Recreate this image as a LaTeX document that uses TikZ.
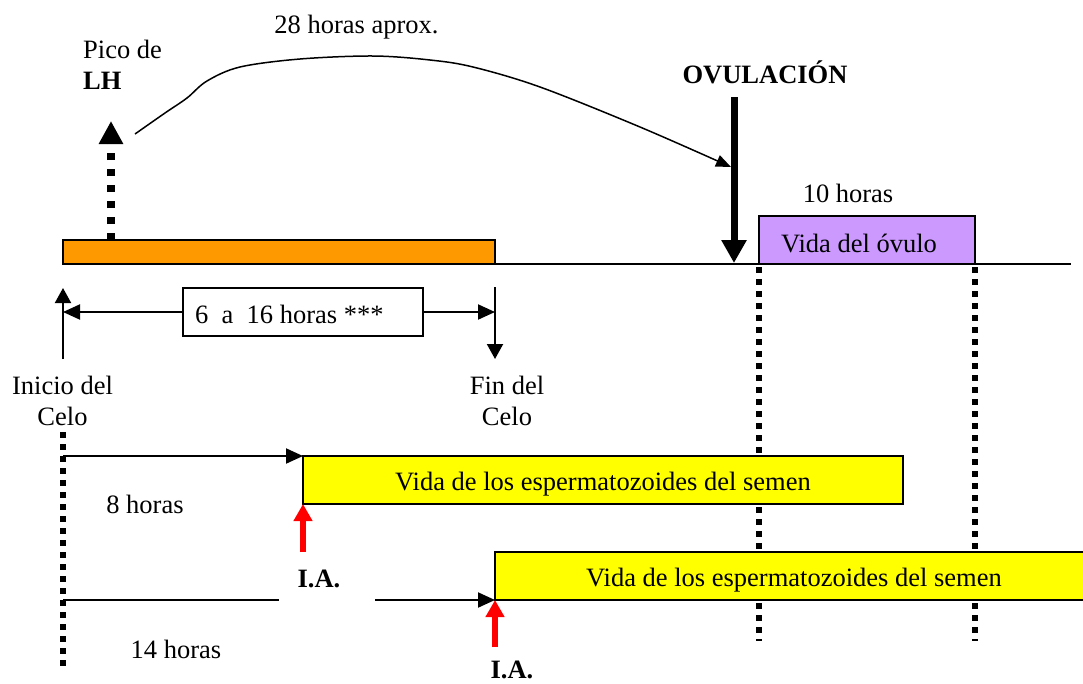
\documentclass[tikz,border=0pt]{standalone}
\usepackage{fontspec}
\setmainfont{Liberation Serif}
\usetikzlibrary{arrows.meta}
\definecolor{orangebar}{HTML}{FF9900}
\definecolor{purplebox}{HTML}{CC99FF}
\definecolor{yellowbox}{HTML}{FFFF00}
\begin{document}
\begin{tikzpicture}[x=1pt,y=-1pt,
  font=\fontsize{26.5}{31}\selectfont,
  bar/.style={draw, line width=2pt, inner sep=0pt, outer sep=0pt, anchor=north west},
  dots/.style={line width=5.5pt, dash pattern=on 5.5pt off 6.5pt},
  blk/.style={line width=2pt, -{Triangle[length=17pt,width=15pt]}},
  redarrow/.style={red, line width=6pt, -{Triangle[length=17pt,width=18pt]}},
  txt/.style={inner sep=0pt, anchor=base},
  txtl/.style={inner sep=0pt, anchor=base west}]
\clip (0,0) rectangle (1083,683);
\fill[white] (0,0) rectangle (1083,683);

% vertical dotted guide lines
\coordinate (d0top) at (63,432);
\coordinate (d0bot) at (63,666);
\coordinate (d1top) at (759,267);
\coordinate (d1bot) at (759,641);
\coordinate (d2top) at (975,267);
\coordinate (d2bot) at (975,641);
\draw[dots] (d0top) -- (d0bot);
\draw[dots] (d1top) -- (d1bot);
\draw[dots] (d2top) -- (d2bot);

% main time line and bars
\node[bar, fill=orangebar, minimum width=432pt, minimum height=23.5pt] (celo) at (63,240) {};
\coordinate (lineend) at (1071,263.5);
\draw[line width=2pt] (celo.south west) -- (lineend);
\node[bar, fill=purplebox, minimum width=216pt, minimum height=47.5pt] (ovulo) at (759,216) {};
\node[txt] (ovulotxt) at (859,252) {Vida del óvulo};
\node[txt] (diez) at (848,202) {10 horas};

% LH peak
\coordinate (lhbase) at (111,240);
\coordinate (lhtip) at (111,121);
\draw[line width=8pt, dash pattern=on 7pt off 9pt, -{Triangle[length=23pt,width=23pt]}] (lhbase) -- (lhtip);
\node[txtl] (pico) at (83,58) {Pico de};
\node[txtl] (lh) at (83,89) {\bfseries LH};

% ovulation
\coordinate (ovtop) at (734,97);
\coordinate (ovtip) at (734,263);
\draw[line width=7pt, -{Triangle[length=23pt,width=24pt]}] (ovtop) -- (ovtip);
\node[txt] (ovul) at (765,83) {\bfseries OVULACIÓN};

% 28 hours curve
\coordinate (cstart) at (135,134);
\coordinate (cend) at (731,167);
\draw[line width=1.5pt, -{Triangle[length=15pt,width=12pt]}]
  plot[smooth, tension=0.55] coordinates {(cstart) (165,113) (187,98) (207,81) (240,67) (300,59) (373,56) (430,60) (473,67) (540,87) (640,127) (cend)};
\node[txt] (h28) at (356.5,33) {28 horas aprox.};

% duration of heat
\node[bar, minimum width=240pt, minimum height=48pt] (dur) at (183,288) {};
\node[txtl] (durtxt) at (195,323) {6\ \ a\ \ 16 horas ***};
\coordinate (iniBot) at (63,359);
\coordinate (iniTop) at (63,288);
\draw[line width=2pt, -{Triangle[length=15pt,width=16pt]}] (iniBot) -- (iniTop);
\draw[blk] (dur.west) -- (dur.west -| iniBot);
\coordinate (finTop) at (495,287);
\coordinate (finBot) at (495,359);
\draw[line width=2pt, -{Triangle[length=15pt,width=16pt]}] (finTop) -- (finBot);
\draw[blk] (dur.east) -- (dur.east -| finTop);
\node[txt] (ini1) at (62.5,394) {Inicio del};
\node[txt] (ini2) at (62.5,425) {Celo};
\node[txt] (fin1) at (507,394) {Fin del};
\node[txt] (fin2) at (507,425) {Celo};

% sperm life bars
\node[bar, fill=yellowbox, minimum width=600pt, minimum height=48pt] (esp1) at (303,456) {};
\node[txt] (esp1txt) at (603,490) {Vida de los espermatozoides del semen};
\node[bar, fill=yellowbox, minimum width=600pt, minimum height=48pt] (esp2) at (495,552) {};
\node[txt] (esp2txt) at (794,586) {Vida de los espermatozoides del semen};

\coordinate (a1start) at (63,456);
\draw[blk] (a1start) -- (esp1.north west);
\coordinate (a2start) at (63,600);
\draw[blk] (a2start) -- (esp2.south west);

\node[fill=white, inner sep=0pt, outer sep=0pt, minimum width=96pt, minimum height=34pt, anchor=south west] (iagap) at (279,601.5) {};

\coordinate (r1) at (303,552);
\draw[redarrow] (r1) -- (esp1.south west);
\coordinate (r2) at (495,647);
\draw[redarrow] (r2) -- (esp2.south west);

\node[txt] (ia1) at (319,587) {\bfseries I.A.};
\node[txt] (ia2) at (512,678) {\bfseries I.A.};
\node[txt] (h8) at (145,513) {8 horas};
\node[txt] (h14) at (176,658) {14 horas};
\end{tikzpicture}
\end{document}
